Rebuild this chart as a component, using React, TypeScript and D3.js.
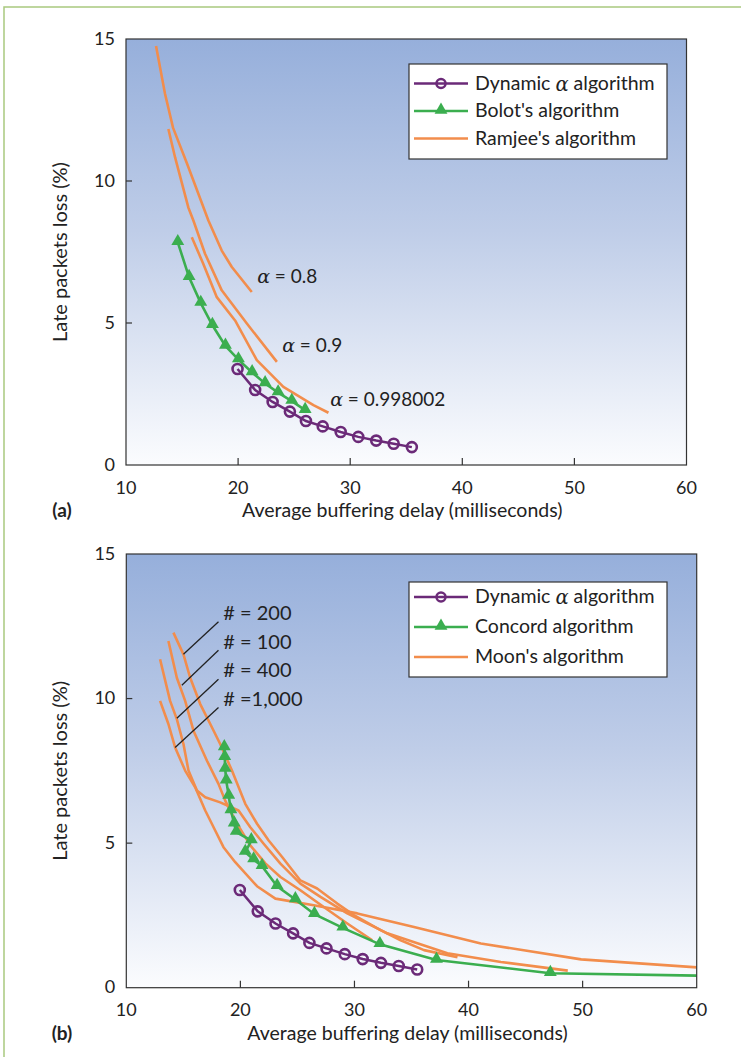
import { useRef, useEffect } from 'react';
import * as d3 from 'd3';

type Pt = [number, number];

// (a) and (b) share the dynamic alpha curve
const dynamicAlpha: Pt[] = [
  [19.95, 3.38], [21.52, 2.64], [23.08, 2.22], [24.62, 1.88], [26.05, 1.55], [27.55, 1.36],
  [29.15, 1.16], [30.72, 0.99], [32.32, 0.86], [33.88, 0.75], [35.5, 0.63],
];

const bolot: Pt[] = [
  [14.62, 7.84], [15.63, 6.61], [16.67, 5.7], [17.71, 4.92], [18.87, 4.19], [20.03, 3.71],
  [21.25, 3.26], [22.41, 2.87], [23.57, 2.55], [24.79, 2.25], [25.98, 1.93],
];

const ramjee08: Pt[] = [
  [12.68, 14.75], [13.48, 13.07], [14.2, 11.87], [15.45, 10.61], [16.79, 9.2], [17.35, 8.61],
  [18.54, 7.55], [19.44, 6.97], [21.22, 6.09],
];
const ramjee09: Pt[] = [
  [13.78, 11.83], [14.38, 10.83], [15.56, 9.07], [16.01, 8.61], [17.05, 7.44], [18.54, 6.15],
  [20.78, 4.98], [23.46, 3.63],
];
const ramjee0998: Pt[] = [
  [15.87, 8.02], [16.9, 7.08], [18.1, 5.91], [19.73, 5.09], [21.67, 3.69], [24.04, 2.75],
  [26.72, 2.11], [28.06, 1.84],
];

const concord: Pt[] = [
  [18.59, 8.31], [18.63, 7.97], [18.67, 7.56], [18.76, 7.16], [18.98, 6.63], [19.17, 6.13],
  [19.46, 5.67], [19.64, 5.38], [20.96, 5.09], [20.43, 4.69], [21.16, 4.43], [21.9, 4.2],
  [23.22, 3.51], [24.82, 3.05], [26.49, 2.54], [28.98, 2.07], [32.23, 1.5], [37.19, 0.96],
  [47.17, 0.5], [61.5, 0.41],
];

const moon200: Pt[] = [
  [14.13, 12.28], [15.01, 11.53], [15.6, 10.72], [16.48, 9.81], [17.36, 9.12], [18.23, 8.43],
  [19.26, 7.51], [20.43, 6.36], [21.46, 5.67], [22.48, 5.09], [23.66, 4.52], [25.26, 3.71],
  [26.73, 3.43], [28.49, 2.91], [29.95, 2.51], [32.29, 1.99], [34.05, 1.64], [36.1, 1.3],
  [39.03, 1.05],
];
const moon100: Pt[] = [
  [13.69, 11.99], [14.43, 10.72], [15.16, 9.92], [15.89, 8.89], [17.07, 7.85], [18.08, 7.05],
  [18.67, 6.47], [19.55, 5.78], [20.87, 4.92], [22.19, 4.3], [23.51, 3.83], [25.26, 3.37],
  [27.31, 2.79], [29.37, 2.22], [31.56, 1.64],
];
const moon400: Pt[] = [
  [12.96, 11.36], [13.84, 9.92], [14.43, 9.29], [15.01, 8.43], [15.45, 7.51], [16.19, 6.82],
  [16.92, 6.59], [18.23, 6.41], [19.84, 6.13], [20.87, 5.55], [22.04, 4.98], [23.51, 4.29],
  [25.26, 3.6], [27.02, 3.14], [29.37, 2.57], [32.88, 1.88], [38.15, 1.19], [42.84, 0.89],
  [48.7, 0.59],
];
const moon1000: Pt[] = [
  [12.96, 9.92], [13.69, 9.12], [14.28, 8.31], [15.16, 7.51], [16.04, 6.93], [16.92, 6.13],
  [17.65, 5.55], [18.52, 4.86], [19.55, 4.34], [21.46, 3.51], [23.07, 3.08], [26.43, 2.85],
  [30.25, 2.57], [35.22, 2.1], [41.08, 1.53], [49.87, 0.98], [60.2, 0.7],
];

const xTicks = [10, 20, 30, 40, 50, 60];
const yTicks = [0, 5, 10, 15];

const alphaLabels = [
  { value: '0.8', x: 21.7, y: 6.6 },
  { value: '0.9', x: 23.93, y: 4.14 },
  { value: '0.998002', x: 28.21, y: 2.25 },
];

const moonLabels = [
  { text: '# = 200', x: 18.5, y: 12.89, from: [18.08, 12.66], to: [15.01, 11.53] },
  { text: '# = 100', x: 18.5, y: 11.89, from: [18.08, 11.67], to: [14.87, 10.46] },
  { text: '# = 400', x: 18.5, y: 10.92, from: [18.08, 10.67], to: [14.43, 9.32] },
  { text: '# =1,000', x: 18.5, y: 9.92, from: [18.08, 9.69], to: [14.28, 8.31] },
];

const PURPLE = '#6b2a78';
const GREEN = '#3bae4f';
const ORANGE = '#f28d4c';
const FONT = 'Lato, "Open Sans", sans-serif';

export default function App() {
  const ref = useRef<SVGSVGElement>(null);

  useEffect(() => {
    const root = d3.select(ref.current);
    root.selectAll('*').remove();

    const defs = root.append('defs');
    const grad = defs
      .append('linearGradient')
      .attr('id', 'bg')
      .attr('x1', 0)
      .attr('y1', 0)
      .attr('x2', 0)
      .attr('y2', 1);
    grad.append('stop').attr('offset', '0%').attr('stop-color', '#96afdb');
    grad.append('stop').attr('offset', '45%').attr('stop-color', '#bfcde8');
    grad.append('stop').attr('offset', '100%').attr('stop-color', '#fbfcfe');

    // outer frame (runs off page on right/bottom)
    root.append('path')
      .attr('d', 'M4,1100 L4,7 L760,7')
      .attr('fill', 'none')
      .attr('stroke', '#a9c97f')
      .attr('stroke-width', 1.5);

    const panels = [
      {
        id: 'a', left: 126, right: 686.5, top: 39, bottom: 465,
        legend: [
          { name: 'Dynamic ', alpha: true, color: PURPLE, mark: 'circle' },
          { name: "Bolot's algorithm", color: GREEN, mark: 'tri' },
          { name: "Ramjee's algorithm", color: ORANGE, mark: 'none' },
        ],
        legendTop: 64, rowGap: 27.5, rowOff: 19.5,
        lines: [ramjee08, ramjee09, ramjee0998],
        green: bolot,
      },
      {
        id: 'b', left: 126.3, right: 696.7, top: 554, bottom: 987.7,
        legend: [
          { name: 'Dynamic ', alpha: true, color: PURPLE, mark: 'circle' },
          { name: 'Concord algorithm', color: GREEN, mark: 'tri' },
          { name: "Moon's algorithm", color: ORANGE, mark: 'none' },
        ],
        legendTop: 582, rowGap: 30, rowOff: 15,
        lines: [moon200, moon100, moon400, moon1000],
        green: concord,
      },
    ];

    const tri = d3.symbol().type(d3.symbolTriangle).size(72);

    panels.forEach((p) => {
      const x = d3.scaleLinear().domain([10, 60]).range([p.left, p.right]);
      const y = d3.scaleLinear().domain([0, 15]).range([p.bottom, p.top]);
      const g = root.append('g');

      g.append('defs')
        .append('clipPath')
        .attr('id', 'clip-' + p.id)
        .append('rect')
        .attr('x', p.left)
        .attr('y', p.top)
        .attr('width', p.right - p.left)
        .attr('height', p.bottom - p.top);

      g.append('rect')
        .attr('x', p.left)
        .attr('y', p.top)
        .attr('width', p.right - p.left)
        .attr('height', p.bottom - p.top)
        .attr('fill', 'url(#bg)');

      const line = d3.line<Pt>().x((d) => x(d[0])).y((d) => y(d[1]));
      const plot = g.append('g').attr('clip-path', `url(#clip-${p.id})`);

      p.lines.forEach((s) => {
        plot.append('path')
          .attr('d', line(s))
          .attr('fill', 'none')
          .attr('stroke', ORANGE)
          .attr('stroke-width', 2.6)
          .attr('stroke-linejoin', 'round');
      });

      plot.append('path')
        .attr('d', line(p.green))
        .attr('fill', 'none')
        .attr('stroke', GREEN)
        .attr('stroke-width', 2.6);
      plot.selectAll('.tri')
        .data(p.green)
        .join('path')
        .attr('d', tri)
        .attr('transform', (d) => `translate(${x(d[0])},${y(d[1]) - 1})`)
        .attr('fill', GREEN);

      plot.append('path')
        .attr('d', line(dynamicAlpha))
        .attr('fill', 'none')
        .attr('stroke', PURPLE)
        .attr('stroke-width', 2.5);
      plot.selectAll('.circ')
        .data(dynamicAlpha)
        .join('circle')
        .attr('cx', (d) => x(d[0]))
        .attr('cy', (d) => y(d[1]))
        .attr('r', 5)
        .attr('fill', 'none')
        .attr('stroke', PURPLE)
        .attr('stroke-width', 2.6);

      // frame + ticks
      g.append('rect')
        .attr('x', p.left)
        .attr('y', p.top)
        .attr('width', p.right - p.left)
        .attr('height', p.bottom - p.top)
        .attr('fill', 'none')
        .attr('stroke', '#333')
        .attr('stroke-width', 1.2);

      xTicks.slice(1, -1).forEach((t) => {
        g.append('line')
          .attr('x1', x(t)).attr('x2', x(t))
          .attr('y1', p.bottom).attr('y2', p.bottom - 7)
          .attr('stroke', '#333').attr('stroke-width', 1.2);
      });
      yTicks.slice(1, -1).forEach((t) => {
        g.append('line')
          .attr('x1', p.left).attr('x2', p.left + 6)
          .attr('y1', y(t)).attr('y2', y(t))
          .attr('stroke', '#333').attr('stroke-width', 1.2);
      });

      g.selectAll('.xl')
        .data(xTicks)
        .join('text')
        .attr('x', (d) => x(d))
        .attr('y', p.bottom + 24)
        .attr('text-anchor', 'middle')
        .attr('dominant-baseline', 'middle')
        .style('font-family', FONT)
        .style('font-size', '18px')
        .attr('fill', '#222')
        .text((d) => d);

      g.selectAll('.yl')
        .data(yTicks)
        .join('text')
        .attr('x', p.left - 11)
        .attr('y', (d) => y(d) + 1)
        .attr('text-anchor', 'end')
        .attr('dominant-baseline', 'middle')
        .style('font-family', FONT)
        .style('font-size', '18px')
        .attr('fill', '#222')
        .text((d) => d);

      g.append('text')
        .attr('x', (p.left + p.right) / 2 - 4)
        .attr('y', p.bottom + 47)
        .attr('text-anchor', 'middle')
        .attr('dominant-baseline', 'middle')
        .style('font-family', FONT)
        .style('font-size', '19.5px')
        .attr('fill', '#222')
        .text('Average buffering delay (milliseconds)');

      g.append('text')
        .attr('x', 62)
        .attr('y', p.bottom + 47)
        .attr('text-anchor', 'middle')
        .attr('dominant-baseline', 'middle')
        .style('font-family', FONT)
        .style('font-size', '19px')
        .style('font-weight', 'bold')
        .attr('fill', '#222')
        .text(`(${p.id})`);

      g.append('text')
        .attr('transform', `translate(62,${(p.top + p.bottom) / 2}) rotate(-90)`)
        .attr('text-anchor', 'middle')
        .attr('dominant-baseline', 'middle')
        .style('font-family', FONT)
        .style('font-size', '20px')
        .attr('fill', '#222')
        .text('Late packets loss (%)');

      // legend
      const lg = g.append('g').attr('transform', `translate(409,${p.legendTop})`);
      lg.append('rect')
        .attr('width', 258)
        .attr('height', 95)
        .attr('fill', 'white')
        .attr('stroke', '#333')
        .attr('stroke-width', 1.2);
      p.legend.forEach((it, i) => {
        const row = lg.append('g').attr('transform', `translate(0,${p.rowOff + i * p.rowGap})`);
        row.append('line')
          .attr('x1', 5).attr('x2', 59)
          .attr('stroke', it.color)
          .attr('stroke-width', 2.6);
        if (it.mark === 'circle') {
          row.append('circle').attr('cx', 32).attr('r', 4.5)
            .attr('fill', 'none').attr('stroke', it.color).attr('stroke-width', 2.5);
        } else if (it.mark === 'tri') {
          row.append('path').attr('d', tri).attr('transform', 'translate(32,-1)').attr('fill', it.color);
        }
        const t = row.append('text')
          .attr('x', 66)
          .attr('y', 1)
          .attr('dominant-baseline', 'middle')
          .style('font-family', FONT)
          .style('font-size', '19.5px')
          .attr('fill', '#222');
        t.append('tspan').text(it.name);
        if (it.alpha) {
          t.append('tspan')
            .style('font-family', '"DejaVu Serif", serif')
            .style('font-style', 'italic')
            .text('α');
          t.append('tspan').text(' algorithm');
        }
      });

      if (p.id === 'a') {
        alphaLabels.forEach((a) => {
          const t = g.append('text')
            .attr('x', x(a.x))
            .attr('y', y(a.y))
            .attr('dominant-baseline', 'middle')
            .style('font-family', FONT)
            .style('font-size', '19px')
            .attr('fill', '#222');
          t.append('tspan')
            .style('font-family', '"DejaVu Serif", serif')
            .style('font-style', 'italic')
            .text('α');
          t.append('tspan').text(' = ' + a.value);
        });
      } else {
        moonLabels.forEach((m) => {
          g.append('line')
            .attr('x1', x(m.from[0])).attr('y1', y(m.from[1]))
            .attr('x2', x(m.to[0])).attr('y2', y(m.to[1]))
            .attr('stroke', '#222')
            .attr('stroke-width', 1.3);
          g.append('text')
            .attr('x', x(m.x))
            .attr('y', y(m.y))
            .attr('dominant-baseline', 'middle')
            .style('font-family', FONT)
            .style('font-size', '20px')
            .attr('fill', '#222')
            .text(m.text);
        });
      }
    });
  }, []);

  return (
    <svg
      ref={ref}
      width={741}
      height={1057}
      style={{ position: 'absolute', left: 0, top: 0, background: 'white' }}
    />
  );
}
